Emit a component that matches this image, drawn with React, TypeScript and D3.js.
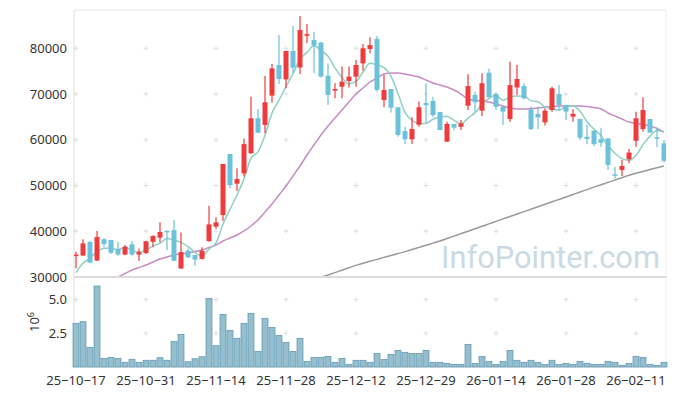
import React from 'react';
import * as d3 from 'd3';

// trading days shown on the chart
const dates = [
  '25-10-17', '25-10-20', '25-10-21', '25-10-22', '25-10-23', '25-10-24', '25-10-27', '25-10-28', '25-10-29', '25-10-30', '25-10-31',
  '25-11-03', '25-11-04', '25-11-05', '25-11-06', '25-11-07', '25-11-10', '25-11-11', '25-11-12', '25-11-13', '25-11-14',
  '25-11-17', '25-11-18', '25-11-19', '25-11-20', '25-11-21', '25-11-24', '25-11-25', '25-11-26', '25-11-27', '25-11-28',
  '25-12-01', '25-12-02', '25-12-03', '25-12-04', '25-12-05', '25-12-08', '25-12-09', '25-12-10', '25-12-11', '25-12-12',
  '25-12-15', '25-12-16', '25-12-17', '25-12-18', '25-12-19', '25-12-22', '25-12-23', '25-12-24', '25-12-26', '25-12-29',
  '25-12-30', '26-01-02', '26-01-05', '26-01-06', '26-01-07', '26-01-08', '26-01-09', '26-01-12', '26-01-13', '26-01-14',
  '26-01-15', '26-01-16', '26-01-19', '26-01-20', '26-01-21', '26-01-22', '26-01-23', '26-01-26', '26-01-27', '26-01-28',
  '26-01-29', '26-01-30', '26-02-02', '26-02-03', '26-02-04', '26-02-05', '26-02-06', '26-02-09', '26-02-10', '26-02-11',
  '26-02-12', '26-02-13', '26-02-19', '26-02-20',
];

const opens = [
  34700, 34700, 37650, 33600, 38250, 38100, 36200, 34900, 37150, 34900,
  35250, 37700, 38600, 40100, 40250, 31850, 35750, 34800, 33950, 37850,
  41000, 43550, 56900, 50400, 52650, 57050, 64700, 63250, 69650, 76350,
  73200, 79400, 75800, 82750, 81800, 81250, 74000, 70750, 71600, 72850,
  73800, 76700, 79850, 82050, 68700, 71100, 67100, 61900, 60100, 63300,
  68050, 68500, 66050, 59600, 63450, 62850, 67450, 69800, 66350, 74650,
  70000, 67200, 64550, 71450, 71750, 66650, 65650, 63800, 66500, 70000,
  67600, 65050, 64550, 60650, 62000, 60150, 60300, 52450, 53400, 55750,
  59800, 62350, 64550, 60550, 59200,
];
const highs = [
  35500, 38250, 37900, 40050, 38550, 38100, 37700, 37000, 37850, 36250,
  37950, 39100, 41950, 40150, 42450, 39750, 36250, 34800, 36500, 45600,
  43050, 54700, 56900, 53750, 60300, 69400, 66700, 73950, 76550, 82900,
  79400, 84850, 87050, 85300, 83600, 81450, 76700, 72350, 76000, 76000,
  77450, 80950, 82400, 82700, 74150, 71100, 67100, 62850, 64900, 68350,
  72350, 69400, 66050, 63950, 63450, 64300, 74300, 70500, 74550, 75600,
  70300, 67300, 77050, 76350, 72350, 67250, 67250, 66900, 71600, 71950,
  67600, 66650, 64550, 63400, 62000, 62500, 60300, 54100, 55600, 58000,
  66150, 69300, 64550, 62700, 59950,
];
const lows = [
  31900, 34600, 33000, 33500, 36500, 35050, 34650, 34750, 34650, 33500,
  35050, 36500, 37600, 35900, 33500, 31800, 34150, 32450, 33800, 37700,
  40500, 42250, 49400, 48800, 51950, 56900, 61400, 61400, 68100, 72200,
  71250, 74550, 74400, 81100, 74550, 73650, 67600, 69050, 69050, 71450,
  71600, 75100, 78900, 70500, 67100, 65950, 60650, 59050, 59050, 62850,
  63750, 64900, 62150, 59500, 62000, 62150, 66500, 66150, 65200, 69300,
  66500, 63250, 63950, 69800, 68850, 62150, 62300, 63100, 66150, 66300,
  64300, 63950, 59950, 59000, 58650, 58500, 53400, 51550, 52100, 54850,
  58500, 61750, 61550, 58350, 55050,
];
const closes = [
  34900, 37350, 33150, 38750, 37200, 35300, 34900, 36600, 34900, 35450,
  37800, 38950, 39850, 39950, 33550, 35450, 34300, 33800, 35700, 41500,
  41950, 54700, 50100, 51400, 59050, 64700, 61550, 68200, 75600, 73300,
  79400, 75750, 84000, 83100, 80700, 73800, 69800, 71100, 72700, 73800,
  76350, 80000, 80700, 70900, 70900, 67000, 61050, 60100, 62350, 67100,
  67550, 65400, 62150, 63450, 62650, 63600, 71750, 68200, 72350, 69300,
  67200, 66150, 71950, 73300, 69050, 62350, 64900, 66350, 71250, 67600,
  66150, 65650, 60450, 60150, 59050, 59350, 54500, 52250, 54250, 57200,
  64700, 66500, 61550, 60250, 55400,
];

// volume, millions of shares
const volumes = [
  3.24, 3.36, 1.46, 6.0, 0.64, 0.72, 0.64, 0.35, 0.57, 0.35,
  0.5, 0.5, 0.69, 0.5, 1.9, 2.42, 0.39, 0.61, 0.76, 5.09,
  1.58, 3.9, 2.72, 2.13, 3.24, 3.98, 1.16, 3.61, 2.94, 2.35,
  1.83, 1.16, 2.13, 0.42, 0.72, 0.72, 0.79, 0.35, 0.64, 0.2,
  0.5, 0.5, 0.35, 1.01, 0.57, 0.94, 1.23, 1.09, 1.01, 1.01,
  1.23, 0.35, 0.35, 0.27, 0.2, 0.2, 1.68, 0.27, 0.79, 0.42,
  0.2, 0.42, 1.23, 0.5, 0.35, 0.5, 0.35, 0.2, 0.5, 0.2,
  0.27, 0.2, 0.42, 0.27, 0.2, 0.2, 0.42, 0.35, 0.13, 0.27,
  0.79, 0.72, 0.2, 0.13, 0.35,
];

// moving averages
const ma5 = [
  30950, 33000, 34100, 35550, 36270, 36350, 35850, 36550, 35780, 35430,
  35930, 36750, 37390, 38400, 38020, 37560, 36620, 35410, 34560, 36150,
  37450, 41530, 44790, 47940, 51450, 56000, 57370, 60980, 65820, 68660,
  71610, 74450, 77610, 79110, 80600, 79480, 78280, 75700, 73620, 72230,
  72740, 74790, 76710, 76350, 75760, 73900, 70110, 65980, 64280, 63520,
  63620, 64500, 64900, 65120, 64230, 63450, 64720, 65930, 67710, 69040,
  69750, 68630, 69380, 69570, 69520, 68560, 68310, 67190, 66780, 66490,
  67250, 67390, 66210, 64000, 62290, 60940, 58710, 57060, 55870, 55500,
  56540, 58940, 60800, 62050, 61690,
];
const ma20 = [
  25700, 26400, 27100, 27800, 28500, 29250, 30000, 30770, 31530, 32080,
  32620, 33280, 33940, 34370, 34810, 35030, 35250, 35570, 35900, 36450,
  37000, 37870, 38530, 39180, 40060, 41150, 42460, 44210, 45960, 47930,
  49890, 52080, 54270, 56670, 58860, 61040, 63010, 64760, 66510, 68260,
  70000, 71320, 72630, 73500, 74380, 74590, 74590, 74380, 74050, 73720,
  73060, 72410, 71970, 71530, 70880, 70000, 68910, 68580, 68470, 68260,
  67820, 67380, 66940, 66730, 66730, 66830, 66940, 67160, 67270, 67380,
  67380, 67380, 67380, 67270, 67050, 66730, 65850, 65190, 64540, 63880,
  63560, 63340, 63010, 62460, 61700,
];
const ma60 = [
  null, null, null, null, null, null, null, null, null, null,
  null, null, null, null, null, null, null, null, null, null,
  null, null, null, null, null, null, null, null, null, null,
  null, null, null, 28900, 29400, 29930, 30440, 30960, 31490, 32010,
  32540, 33020, 33430, 33850, 34290, 34700, 35120, 35550, 36010, 36470,
  36930, 37410, 37870, 38400, 38940, 39490, 40010, 40540, 41080, 41610,
  42160, 42700, 43230, 43770, 44300, 44820, 45370, 45890, 46440, 46960,
  47490, 48030, 48580, 49110, 49650, 50180, 50680, 51200, 51710, 52230,
  52690, 53080, 53500, 53890, 54290,
];

const priceTicks = [30000, 40000, 50000, 60000, 70000, 80000];
const volumeTicks = [2.5, 5.0];
const dateTickStep = 10;

const W = 677;
const H = 396;
const plot = { left: 74, right: 666, top: 10, mid: 277, bottom: 367 };

const UP = '#ef3b3b';
const DOWN = '#6cc2db';
const FONT = '"Noto Sans", "Open Sans", sans-serif';

const App = () => {
  const x = d3.scaleBand<number>()
    .domain(d3.range(dates.length))
    .range([72.5, 667.5])
    .padding(0);
  const cx = (i: number) => (x(i) as number) + x.bandwidth() / 2;

  const y = d3.scaleLinear().domain([30000, 88370]).range([plot.mid, plot.top]);
  const yv = d3.scaleLinear().domain([0, 6.67]).range([plot.bottom, plot.mid]);

  const line = d3.line<number | null>()
    .defined(d => d != null)
    .x((_, i) => cx(i))
    .y(d => y(d as number))
    .curve(d3.curveMonotoneX);

  const xTicks = d3.range(0, dates.length, dateTickStep);
  const bodyW = 5;
  const barW = 6;

  const plus = (px: number, py: number, k: string) => (
    <g key={k} stroke="#dedede" strokeWidth={1}>
      <line x1={px - 2.5} x2={px + 2.5} y1={py} y2={py} />
      <line x1={px} x2={px} y1={py - 2.5} y2={py + 2.5} />
    </g>
  );

  return (
    <svg width={W} height={H} style={{ position: 'absolute', left: 0, top: 0, background: '#fff' }} fontFamily={FONT}>
      <defs>
        <clipPath id="priceClip">
          <rect x={plot.left} y={plot.top} width={plot.right - plot.left} height={plot.mid - plot.top} />
        </clipPath>
      </defs>

      {/* grid markers */}
      {xTicks.map(i => priceTicks.slice(1).map(p => plus(cx(i), y(p), `p${i}-${p}`)))}
      {xTicks.map(i => volumeTicks.map(v => plus(cx(i), yv(v), `v${i}-${v}`)))}

      {/* frame */}
      <line x1={plot.left} x2={plot.right} y1={plot.top} y2={plot.top} stroke="#e6e6e6" />
      <line x1={plot.right} x2={plot.right} y1={plot.top} y2={plot.bottom} stroke="#eeeeee" />
      <line x1={plot.left} x2={plot.left} y1={plot.top} y2={plot.bottom} stroke="#dddddd" />
      <line x1={plot.left} x2={plot.right} y1={plot.bottom} y2={plot.bottom} stroke="#dddddd" />

      {/* volume */}
      {volumes.map((v, i) => (
        <rect key={`vol${i}`} x={cx(i) - barW / 2} y={yv(v)} width={barW} height={yv(0) - yv(v)}
          fill="#95bfcf" stroke="#5b93ad" strokeWidth={0.7} />
      ))}

      {/* moving averages */}
      <g clipPath="url(#priceClip)" fill="none" strokeWidth={1.5}>
        <path d={line(ma60) || ''} stroke="#9a9a9a" />
        <path d={line(ma20) || ''} stroke="#c98bc6" />
        <path d={line(ma5) || ''} stroke="#8fd0c6" />
      </g>

      {/* candles */}
      <g clipPath="url(#priceClip)">
        {dates.map((_, i) => {
          const o = opens[i], c = closes[i];
          const col = c >= o ? UP : DOWN;
          const yt = y(Math.max(o, c));
          const h = Math.max(1.5, y(Math.min(o, c)) - yt);
          return (
            <g key={`c${i}`}>
              <line x1={cx(i)} x2={cx(i)} y1={y(highs[i])} y2={y(lows[i])} stroke={col} strokeWidth={1.2} />
              <rect x={cx(i) - bodyW / 2} y={yt} width={bodyW} height={h} fill={col} />
            </g>
          );
        })}
      </g>

      {/* watermark */}
      <text x={441} y={268} fontSize={31} fontFamily="Roboto, sans-serif" fill="#bcd2de" opacity={0.8}
        textLength={219} lengthAdjust="spacingAndGlyphs">InfoPointer.com</text>

      {/* divider between panes */}
      <line x1={plot.left} x2={plot.right} y1={plot.mid} y2={plot.mid} stroke="#dcdcdc" strokeWidth={2} />

      {/* price axis */}
      {priceTicks.map(p => (
        <text key={`pt${p}`} x={67} y={y(p)} dy="0.35em" textAnchor="end" fontSize={13} fill="#333">{p}</text>
      ))}

      {/* volume axis */}
      {volumeTicks.map(v => (
        <text key={`vt${v}`} x={67} y={yv(v)} dy="0.35em" textAnchor="end" fontSize={13} fill="#333">{v.toFixed(1)}</text>
      ))}
      <text transform="translate(39,322) rotate(-90)" textAnchor="middle" fontSize={13} fill="#333">
        10<tspan dy={-5} fontSize={9}>6</tspan>
      </text>

      {/* date axis */}
      {xTicks.map(i => (
        <text key={`dt${i}`} x={cx(i)} y={385} textAnchor="middle" fontSize={13} fill="#333">
          {dates[i].replace(/-/g, '\u2212')}
        </text>
      ))}
    </svg>
  );
};

export default App;
